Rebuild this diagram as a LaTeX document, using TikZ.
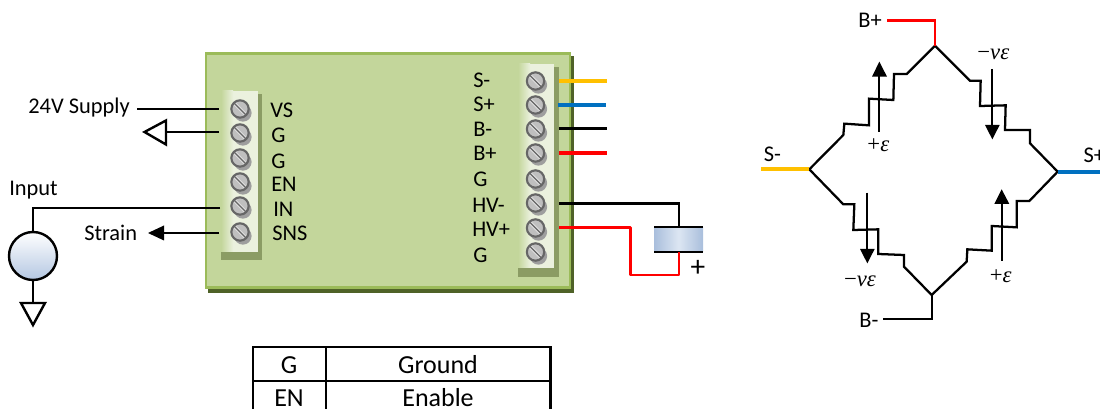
\documentclass[tikz,border=0pt]{standalone}
\usepackage{fontspec}
\setmainfont{Carlito}
\newfontfamily\mfont{Liberation Serif}
\usetikzlibrary{shadows,calc}
\definecolor{boardfill}{HTML}{C3D69B}
\definecolor{boardedge}{HTML}{9BBB59}
\definecolor{boardshadow}{HTML}{4F6228}
\definecolor{stripshadow}{HTML}{8B9C64}
\definecolor{stripfill}{HTML}{EBF1DE}
\definecolor{wyellow}{HTML}{FFC000}
\definecolor{wblue}{HTML}{0070C0}
\definecolor{wred}{HTML}{FF0000}
\definecolor{srcblue}{HTML}{B4C7E2}
\definecolor{capdark}{HTML}{A9BEDC}
\definecolor{caplight}{HTML}{DCE6F2}
\tikzset{
  lbl/.style={font=\fontsize{16.8}{18}\selectfont,inner sep=0pt,text=black},
  lblw/.style={lbl,anchor=west},
  mathlbl/.style={lbl,font=\mfont\fontsize{17}{19}\selectfont},
  wire/.style={line width=1.8pt,line cap=butt,line join=miter},
  colwire/.style={line width=2.6pt,line cap=butt},
  thin wire/.style={line width=1.6pt},
  res/.style={line width=1.7pt,line join=miter},
  screw/.style={circle,minimum size=13pt,inner sep=0pt,draw=black!60,line width=1.6pt,fill=black!25,
    drop shadow={shadow xshift=2.2pt,shadow yshift=-3pt,fill=black!38,opacity=1},
    path picture={\draw[white!88!black,line width=2.4pt] (path picture bounding box.north west) -- (path picture bounding box.south east);
                  \draw[black!60,line width=.9pt] (path picture bounding box.north west) -- (path picture bounding box.south east);}},
  tri/.style={draw=black,line width=1.8pt,fill=white,line join=miter},
  head/.style={fill=black,draw=none},
  cell/.style={lbl,font=\fontsize{19.5}{21}\selectfont,anchor=center}
}
\begin{document}
\begin{tikzpicture}[x=0.75pt,y=-0.75pt]
\useasboundingbox (0,0) rectangle (1100,409);
% board
\fill[boardshadow] (208,56) rectangle (573.5,293);
\draw[boardedge,fill=boardfill,line width=1.8pt] (206,53.5) rectangle (570,287.5);
% left strip
\fill[stripshadow] (224,94) rectangle (262,260);
\fill[stripshadow] (221,252) rectangle (262,260);
\fill[stripfill] (233,91) rectangle (258,252);
\shade[left color=boardfill,right color=stripfill] (221,91) rectangle (233.2,252);
% right strip
\fill[stripshadow] (522,67) rectangle (559,277);
\fill[stripshadow] (518,268) rectangle (559,277);
\fill[stripfill] (530,64) rectangle (554,268);
\shade[left color=boardfill,right color=stripfill] (518,64) rectangle (530.2,268);
% screws
\foreach \n/\y in {1/109,2/133,3/158,4/182,5/206,6/232}
  \node[screw] (l\n) at (240,\y) {};
\foreach \n/\y in {1/81,2/105,3/129,4/153,5/179,6/203,7/228,8/252}
  \node[screw] (r\n) at (535.5,\y) {};
% left labels
\node[lblw] (vs) at (270,110) {VS};
\node[lblw] (g1) at (271,135) {G};
\node[lblw] (g2) at (271,161) {G};
\node[lblw] (en) at (271,184) {EN};
\node[lblw] (in) at (273,209) {IN};
\node[lblw] (sns) at (272,233) {SNS};
% right labels
\node[lblw] (sm) at (473,80) {S-};
\node[lblw] (sp) at (473,104) {S+};
\node[lblw] (bm) at (473,129) {B-};
\node[lblw] (bp) at (473,153) {B+};
\node[lblw] (g3) at (473,179) {G};
\node[lblw] (hvm) at (472,205) {HV-};
\node[lblw] (hvp) at (472,229) {HV+};
\node[lblw] (g4) at (473,255) {G};
% left wiring
\node[lbl,anchor=east] (supply) at (130,108) {24V Supply};
\coordinate (w1) at (219,109);
\draw[wire] (137,109) coordinate (w1s) -- (w1);
\coordinate (w2) at (219,132);
\coordinate (gt) at (166,132);
\draw[wire] (w2) -- (gt);
\draw[tri] (gt) -- (166,120.5) -- (144.5,132) -- (166,144.5) -- cycle;
\node[lbl,anchor=west] (input) at (9,190) {Input};
\node[circle,minimum size=36pt,inner sep=0pt,draw=black,line width=1.8pt,top color=white,bottom color=srcblue] (src) at (33,256) {};
\coordinate (w5) at (220,208);
\draw[wire] (w5) -| (src.north);
\coordinate (gnd) at (33,303);
\draw[wire] (src.south) -- (gnd);
\draw[tri] (21,303) -- (45,303) -- (33,325) -- cycle;
\node[lbl,anchor=west] (strain) at (84,233) {Strain};
\coordinate (w6) at (219,233);
\coordinate (st) at (160,233);
\draw[wire] (w6) -- (st);
\fill[head] (148,233) -- (164,225.5) -- (164,240.5) -- cycle;
% right wiring
\coordinate (e1) at (607,81);\coordinate (e2) at (606,105);\coordinate (e3) at (607,128.5);\coordinate (e4) at (607,153);
\draw[colwire,wyellow] (559,81) -- (e1);
\draw[colwire,wblue] (558,105) -- (e2);
\draw[colwire,black] (559,128.5) -- (e3);
\draw[colwire,wred] (559,153) -- (e4);
% capacitor
\shade[shading=axis,shading angle=60,left color=capdark,right color=capdark,middle color=caplight] (654,228) rectangle (703,252);
\coordinate (ct) at (679,227);\coordinate (cb) at (679,252);
\draw[wire] (654,227) -- (703,227);
\draw[wire] (654,252) -- (703,252);
\draw[thin wire] (559,203.5) -- (679,203.5) -- (ct);
\draw[line width=1.9pt,wred,line join=round] (559,227.5) -- (630.5,227.5) -- (630.5,275) -- (679,275) -- (cb);
\node[lbl,font=\fontsize{22}{24}\selectfont] (plus) at (698,268) {+};
% table
\node[cell] (t1) at (289,365) {G};
\node[cell] (t2) at (438,365) {Ground};
\node[cell] (t3) at (289,398) {EN};
\node[cell] (t4) at (438,398) {Enable};
\draw[line width=1.6pt] (253,412) -- (253,347) -- (550.5,347) -- (550.5,412);
\draw[line width=1.6pt] (326,347) -- (326,412);
\draw[line width=1.6pt] (253,381) -- (550.5,381);
% bridge
\begin{scope}[shift={(750,0)},x=0.25pt,y=-0.25pt]
\coordinate (T) at (555,137);\coordinate (L) at (178,508);\coordinate (R) at (923,515);\coordinate (B) at (545,885);
\draw[res] (T) -- (470,222) -- (432,222) -- (430,300) -- (357,296) -- (357,376) -- (283,371) -- (280,405) -- (L);
\draw[res] (T) -- (660,242) -- (692,242) -- (690,318) -- (767,316) -- (765,390) -- (840,390) -- (840,430) -- (R);
\draw[res] (L) -- (280,613) -- (313,613) -- (310,690) -- (385,688) -- (385,762) -- (462,765) -- (462,800) -- (B);
\draw[res] (B) -- (650,785) -- (652,748) -- (725,752) -- (725,678) -- (800,682) -- (800,603) -- (838,603) -- (R);
\draw[wire,wred,line width=2.1pt] (412,62) -- (555,62) -- (T);
\draw[wire,line width=1.7pt] (400,958) -- (545,958) -- (B);
\draw[wire,wyellow,line width=2.8pt] (33,508) -- (L);
\draw[wire,wblue,line width=2.8pt] (R) -- (1050,515);
\node[lbl] (nbp) at (360,60) {B+};
\node[lbl] (nbm) at (357,962) {B-};
\node[lbl] (nsm) at (67,462) {S-};
\node[lbl,anchor=west] (nsp) at (1000,465) {S+};
% strain arrows
\draw[wire,line width=1.5pt] (388,395) -- (388,225);\fill[head] (388,185) -- (411,230) -- (366,230) -- cycle;
\draw[wire,line width=1.5pt] (727,207) -- (727,380);\fill[head] (727,418) -- (749,375) -- (705,375) -- cycle;
\draw[wire,line width=1.5pt] (352,578) -- (352,752);\fill[head] (352,790) -- (374,747) -- (330,747) -- cycle;
\draw[wire,line width=1.5pt] (755,782) -- (755,607);\fill[head] (755,568) -- (778,612) -- (733,612) -- cycle;
\node[mathlbl] (m1) at (730,162) {−\itshape νε};
\node[mathlbl] (m2) at (385,437) {+\itshape ε};
\node[mathlbl] (m3) at (330,843) {−\itshape νε};
\node[mathlbl] (m4) at (752,828) {+\itshape ε};
\end{scope}
\end{tikzpicture}
\end{document}
